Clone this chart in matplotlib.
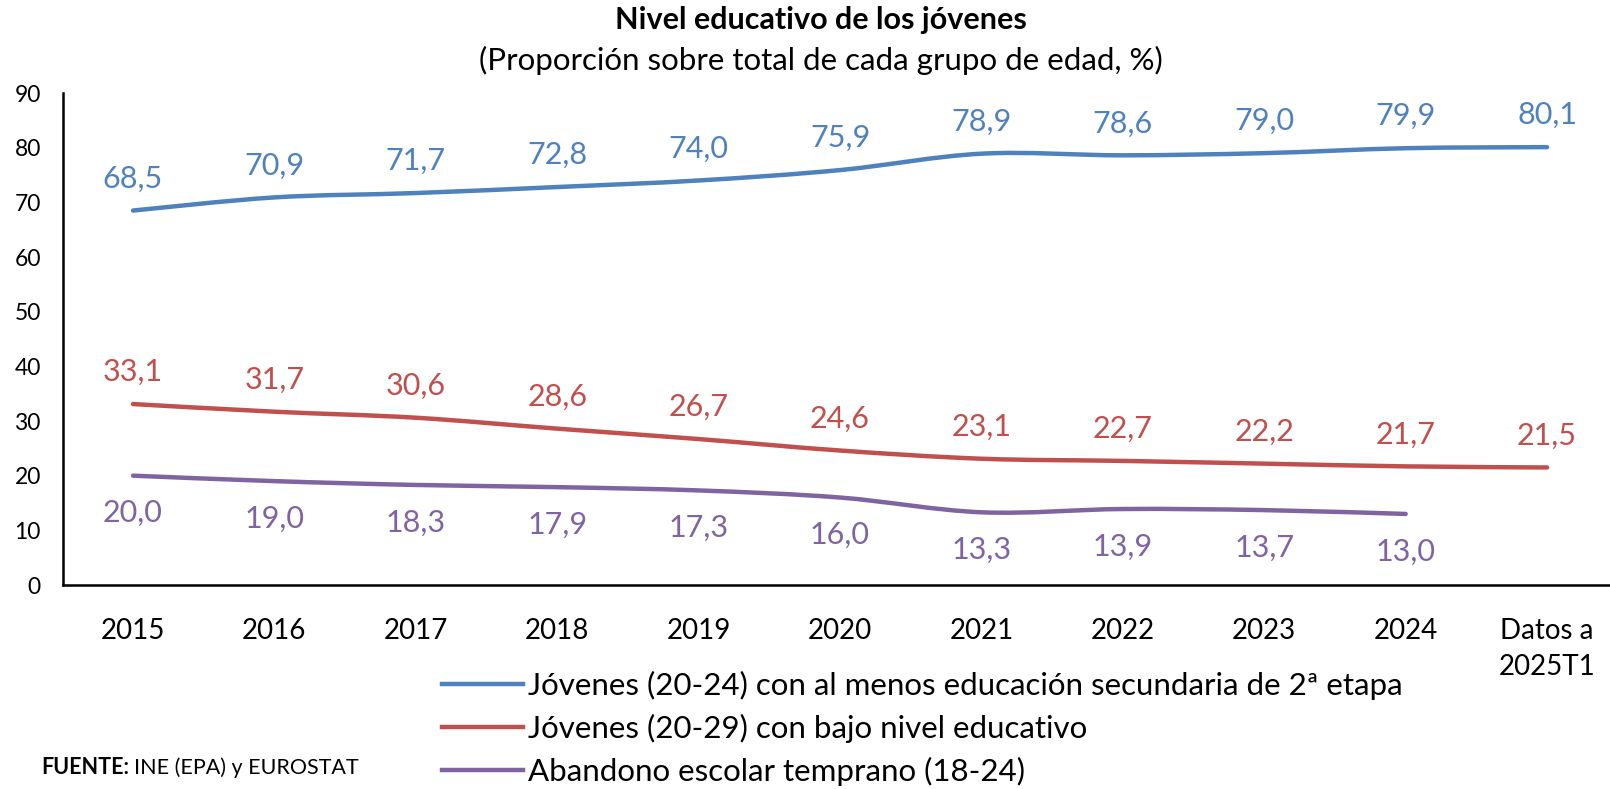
import numpy as np
import matplotlib
matplotlib.use("Agg")
import matplotlib.pyplot as plt
from matplotlib.path import Path
from matplotlib.patches import PathPatch
from matplotlib.lines import Line2D

plt.rcParams['font.family'] = ['Lato', 'DejaVu Sans']

# datos
categorias = ['2015', '2016', '2017', '2018', '2019', '2020', '2021', '2022',
              '2023', '2024', 'Datos a\n2025T1']
secundaria = [68.5, 70.9, 71.7, 72.8, 74.0, 75.9, 78.9, 78.6, 79.0, 79.9, 80.1]
bajo_nivel = [33.1, 31.7, 30.6, 28.6, 26.7, 24.6, 23.1, 22.7, 22.2, 21.7, 21.5]
abandono = [20.0, 19.0, 18.3, 17.9, 17.3, 16.0, 13.3, 13.9, 13.7, 13.0]

nombres = ['Jóvenes (20-24) con al menos educación secundaria de 2ª etapa',
           'Jóvenes (20-29) con bajo nivel educativo',
           'Abandono escolar temprano (18-24)']
colores = ['#4F81BD', '#C0504D', '#8064A2']


def curva_suave(xs, ys):
    # curva tipo Excel (Bezier cúbica)
    pts = np.column_stack([xs, ys]).astype(float)
    n = len(pts)
    verts = [pts[0]]
    codes = [Path.MOVETO]
    for i in range(n - 1):
        p0 = pts[i - 1] if i > 0 else pts[i]
        p1 = pts[i]
        p2 = pts[i + 1]
        p3 = pts[i + 2] if i + 2 < n else pts[i + 1]
        verts += [p1 + (p2 - p0) / 6, p2 - (p3 - p1) / 6, p2]
        codes += [Path.CURVE4] * 3
    return Path(verts, codes)


fig = plt.figure(figsize=(16.1, 7.89), dpi=100)
ax = fig.add_axes([63 / 1610, 1 - 585 / 789, (1610 - 63) / 1610, (585 - 93) / 789])

series = [secundaria, bajo_nivel, abandono]
offsets = [23, 23, -27]
for vals, col, off in zip(series, colores, offsets):
    xs = np.arange(len(vals))
    ax.add_patch(PathPatch(curva_suave(xs, vals), facecolor='none', edgecolor=col,
                           lw=3.2, capstyle='round'))
    for x, v in zip(xs, vals):
        ax.annotate(f'{v:.1f}'.replace('.', ','), (x, v), xytext=(0, off),
                    textcoords='offset points', ha='center', va='center',
                    color=col, fontsize=22)

ax.set_xlim(-0.495, 10.445)
ax.set_ylim(0, 90)
ax.set_yticks(range(0, 91, 10))
ax.set_xticks(range(len(categorias)))
ax.set_xticklabels(categorias, va='top', linespacing=1.45)
ax.tick_params(axis='both', length=0)
ax.tick_params(axis='x', pad=24, labelsize=20)
ax.tick_params(axis='y', pad=16, labelsize=16.5)
for s in ['top', 'right']:
    ax.spines[s].set_visible(False)
for s in ['left', 'bottom']:
    ax.spines[s].set_linewidth(1.8)

fig.text(0.51, 1 - 20 / 789, 'Nivel educativo de los jóvenes', ha='center', va='center',
         fontsize=22, fontweight='bold')
fig.text(0.51, 1 - 60 / 789, '(Proporción sobre total de cada grupo de edad, %)',
         ha='center', va='center', fontsize=22.5)

handles = [Line2D([0], [0], color=c, lw=3.2) for c in colores]
fig.legend(handles, nombres, loc='upper left', bbox_to_anchor=(426 / 1610, 1 - 655 / 789),
           frameon=False, fontsize=22.5, handlelength=2.6, handletextpad=0.15,
           labelspacing=0.45, borderpad=0)

t1 = fig.text(41 / 1610, 1 - 768 / 789, 'FUENTE:', fontsize=15.5, fontweight='bold',
              va='center')
fig.canvas.draw()
bb = t1.get_window_extent()
fig.text((bb.x1 + 5) / 1610, 1 - 768 / 789, 'INE (EPA) y EUROSTAT', fontsize=15.5,
         va='center')

fig.savefig('out.png', dpi=100)
